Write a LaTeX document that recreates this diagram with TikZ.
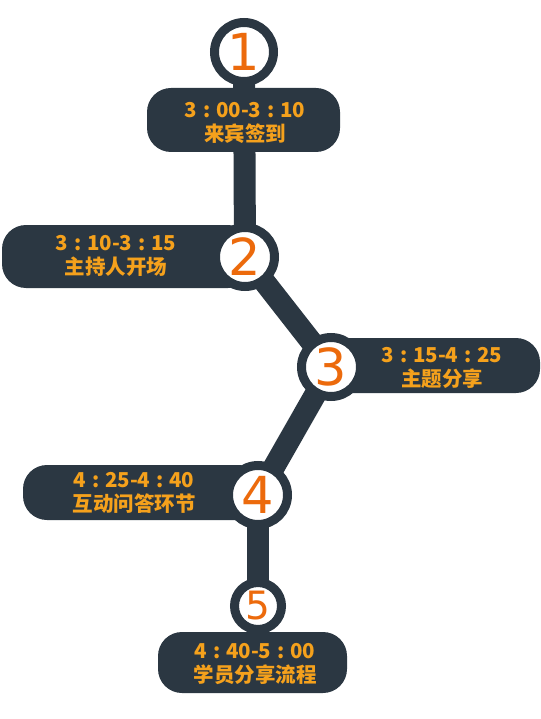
\documentclass[tikz,border=0pt]{standalone}
\usepackage{fontspec}
\newfontfamily\cjk{Noto Sans CJK SC}
\newfontfamily\digitfont{DejaVu Sans}
\definecolor{dark}{HTML}{2B3742}
\definecolor{timeor}{HTML}{F5A11C}
\definecolor{numor}{HTML}{EC6A0C}
\pgfdeclarelayer{bg}
\pgfsetlayers{bg,main}
\newcommand{\cl}{\hspace{0.28em}:\hspace{0.28em}}
\begin{document}
\begin{tikzpicture}[x=1pt,y=-1pt,
  box/.style={fill=dark, rounded corners=24pt, inner sep=0pt},
  stepcircle/.style={circle, draw=dark, line width=9pt, fill=white, inner sep=0pt, minimum size=59pt, text=numor, font=\digitfont\fontsize{51}{51}\selectfont},
  smallcircle/.style={stepcircle, minimum size=47pt, font=\digitfont\fontsize{39}{39}\selectfont},
  lbl/.style={align=center, text=timeor, inner sep=0pt, font=\cjk\bfseries\fontsize{20.5}{24.5}\selectfont},
  conn/.style={draw=dark, line width=22pt}]
\useasboundingbox (0,0) rectangle (540,719);
% boxes
\node[box, minimum width=193pt, minimum height=64pt] (b1) at (243.5,120) {};
\node[box, minimum width=250pt, minimum height=63pt] (b2) at (127,256.5) {};
\node[box, minimum width=215pt, minimum height=55pt] (b3) at (432.5,365.5) {};
\node[box, minimum width=240pt, minimum height=55pt] (b4) at (143,492.5) {};
\node[box, minimum width=189pt, minimum height=61pt] (b5) at (252.5,662.5) {};
% circles
\node[stepcircle] (c1) at (244,52) {1};
\node[stepcircle] (c2) at (245,257) {2};
\node[stepcircle] (c3) at (331,367) {3};
\node[stepcircle] (c4) at (258,495) {4};
\node[smallcircle] (c5) at (258,606) {5};
% connectors
\begin{pgfonlayer}{bg}
\draw[conn] (c1.center) -- (c2.center);
\draw[conn] (c2.center) -- (c3.center);
\draw[conn] (c3.center) -- (c4.center);
\draw[conn] (c4.center) -- (c5.center);
\end{pgfonlayer}
% texts
\node[lbl] (t1) at (245,123) {3\cl 00-3\cl 10\\来宾签到};
\node[lbl] (t2) at (116,256) {3\cl 10-3\cl 15\\主持人开场};
\node[lbl] (t3) at (442,368) {3\cl 15-4\cl 25\\主题分享};
\node[lbl] (t4) at (134,493) {4\cl 25-4\cl 40\\互动问答环节};
\node[lbl] (t5) at (255,664) {4\cl 40-5\cl 00\\学员分享流程};
\end{tikzpicture}
\end{document}
